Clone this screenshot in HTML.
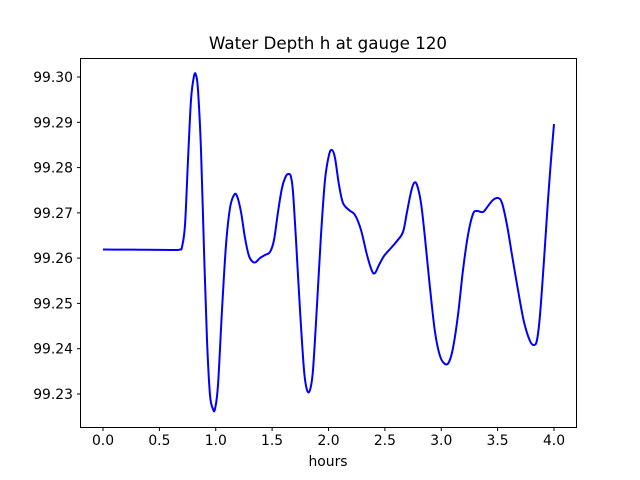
<!DOCTYPE html>
<html><head><style>body{margin:0;background:#fff}svg{display:block}</style></head><body>
<svg width="640" height="480" xmlns="http://www.w3.org/2000/svg" font-family="DejaVu Sans, Liberation Sans, sans-serif">
<rect width="640" height="480" fill="#fff"/>
<text x="328" y="49" font-size="16.7" text-anchor="middle">Water Depth h at gauge 120</text>
<polyline id="pl" fill="none" stroke="#0000ff" stroke-width="2" stroke-linejoin="round" points="103,249.5 120,249.6 140,249.7 160,249.9 172,250 177,250 180,249.5 182,247 185,225 188,160 191,100 194,76 196,75 198,90 201,150 204,250 207,340 210,395 213,409 215,409 218,385 222,310 226,245 230,208 234,195 237,196 241,212 245,238 249,256 253,262 256,262 260,258 265,255 270,252 274,240 278,212 282,188 286,176 289,174 291,177 293,192 296,240 300,310 304,370 307,390 310,390 313,370 317,305 321,235 325,180 329,155 332,150 335,158 339,185 343,203 349,210 355,215 361,230 367,255 372,271 375,273 379,265 384,256 391,248 397,241 403,232 407,212 411,192 414,183 417,185 421,203 425,238 430,288 435,332 440,356 445,364 449,362 453,348 458,315 463,270 468,235 473,214 477,211 483,212 488,206 493,200 498,198 502,203 507,225 512,255 518,290 524,322 530,341 534,345 537,340 540,315 544,260 548,200 551,160 554,124"/>
<path id="sm" fill="none" stroke="#0000ff" stroke-width="2" stroke-linejoin="round" d=""/>
<rect x="80.5" y="58.5" width="496" height="369" fill="none" stroke="#000" stroke-width="1"/>
<g stroke="#000" stroke-width="1">
<line x1="103" y1="427.5" x2="103" y2="431"/><line x1="159.4" y1="427.5" x2="159.4" y2="431"/><line x1="215.75" y1="427.5" x2="215.75" y2="431"/><line x1="272.1" y1="427.5" x2="272.1" y2="431"/><line x1="328.5" y1="427.5" x2="328.5" y2="431"/><line x1="384.9" y1="427.5" x2="384.9" y2="431"/><line x1="441.25" y1="427.5" x2="441.25" y2="431"/><line x1="497.6" y1="427.5" x2="497.6" y2="431"/><line x1="554" y1="427.5" x2="554" y2="431"/>
<line x1="77" y1="394" x2="80.5" y2="394"/><line x1="77" y1="348.7" x2="80.5" y2="348.7"/><line x1="77" y1="303.4" x2="80.5" y2="303.4"/><line x1="77" y1="258.1" x2="80.5" y2="258.1"/><line x1="77" y1="212.9" x2="80.5" y2="212.9"/><line x1="77" y1="167.6" x2="80.5" y2="167.6"/><line x1="77" y1="122.3" x2="80.5" y2="122.3"/><line x1="77" y1="77" x2="80.5" y2="77"/>
</g>
<g font-size="13.9" text-anchor="middle">
<text x="103" y="445">0.0</text><text x="159.4" y="445">0.5</text><text x="215.75" y="445">1.0</text><text x="272.1" y="445">1.5</text><text x="328.5" y="445">2.0</text><text x="384.9" y="445">2.5</text><text x="441.25" y="445">3.0</text><text x="497.6" y="445">3.5</text><text x="554" y="445">4.0</text>
<text x="328" y="466">hours</text>
</g>
<g font-size="13.9" text-anchor="end">
<text x="73" y="399">99.23</text><text x="73" y="353.7">99.24</text><text x="73" y="308.4">99.25</text><text x="73" y="263.1">99.26</text><text x="73" y="217.9">99.27</text><text x="73" y="172.6">99.28</text><text x="73" y="127.3">99.29</text><text x="73" y="82">99.30</text>
</g>
</svg>
<script>
(function(){var pl=document.getElementById('pl');var p=pl.getAttribute('points').trim().split(/\s+/).map(function(s){return s.split(',').map(Number)});
var d='M'+p[0][0]+','+p[0][1];
for(var i=0;i<p.length-1;i++){var a=p[i-1]||p[i],b=p[i],c=p[i+1],e=p[i+2]||c;
d+=' C'+(b[0]+(c[0]-a[0])/6).toFixed(2)+','+(b[1]+(c[1]-a[1])/6).toFixed(2)+' '+(c[0]-(e[0]-b[0])/6).toFixed(2)+','+(c[1]-(e[1]-b[1])/6).toFixed(2)+' '+c[0]+','+c[1];}
document.getElementById('sm').setAttribute('d',d);pl.setAttribute('stroke','none');})();
</script>
</body></html>
